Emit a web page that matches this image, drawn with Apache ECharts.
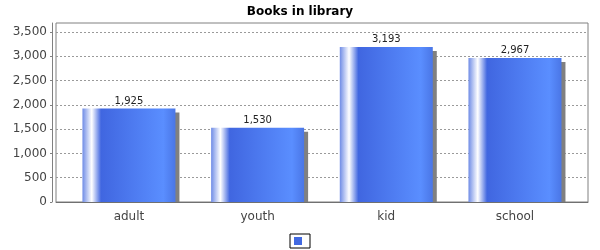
<!DOCTYPE html>
<html>
<head>
<meta charset="utf-8">
<script src="https://cdn.jsdelivr.net/npm/echarts@6/dist/echarts.min.js"></script>
<style>html,body{margin:0;padding:0;background:#fff}#c{width:600px;height:250px}</style>
</head>
<body>
<div id="c"></div>
<script>
const titleText = 'Books in library';
const categories = ['adult', 'youth', 'kid', 'school'];
const values = [1925, 1530, 3193, 2967];
const yTicks = [0, 500, 1000, 1500, 2000, 2500, 3000, 3500];
const yMax = 3685;

const font = 'DejaVu Sans';
const barGradient = {
  type: 'linear', x: 0, y: 0, x2: 1, y2: 0,
  colorStops: [
    { offset: 0, color: '#6f8ce6' },
    { offset: 0.10, color: '#ffffff' },
    { offset: 0.20, color: '#4066e0' },
    { offset: 0.87, color: '#5a8eff' },
    { offset: 1, color: '#4a76e6' }
  ]
};

const chart = echarts.init(document.getElementById('c'), null, { renderer: 'canvas' });
chart.setOption({
  animation: false,
  backgroundColor: '#ffffff',
  title: {
    text: titleText, left: 'center', top: 1,
    textStyle: { fontFamily: font, fontSize: 12, fontWeight: 'bold', color: '#000' }
  },
  legend: {
    bottom: 2, left: 290,
    data: [{ name: 'Books', itemStyle: { color: '#4169e1' } }],
    icon: 'rect', itemWidth: 8, itemHeight: 8,
    padding: [3, 3, 3, 4],
    borderColor: '#000', borderWidth: 1,
    formatter: function () { return ''; },
    textStyle: { fontSize: 8, lineHeight: 8 }
  },
  grid: [
    { left: 64.6, right: 20.7, top: 23, bottom: 48 },
    { left: 56, right: 12, top: 23, bottom: 48, show: true, borderColor: '#808080', borderWidth: 1, backgroundColor: 'transparent' }
  ],
  xAxis: [
    {
      type: 'category', gridIndex: 0, data: categories,
      axisLine: { show: false }, axisTick: { show: false },
      axisLabel: { margin: 9, fontFamily: font, fontSize: 12, color: '#444' }
    },
    {
      type: 'category', gridIndex: 1, data: categories,
      offset: 4,
      axisLine: { show: true, lineStyle: { color: '#808080' } },
      axisTick: { show: false }, axisLabel: { show: false }
    }
  ],
  yAxis: [
    {
      type: 'value', gridIndex: 0, min: 0, max: yMax, interval: 500,
      show: false
    },
    {
      type: 'value', gridIndex: 1, min: 0, max: yMax, interval: 500,
      offset: 4,
      axisLine: { show: true, lineStyle: { color: '#808080' } },
      axisTick: { show: true, length: 2, lineStyle: { color: '#808080' }, customValues: yTicks },
      axisLabel: {
        margin: 5, fontFamily: font, fontSize: 12, color: '#444',
        customValues: yTicks,
        formatter: function (v) { return v.toLocaleString('en-US'); }
      },
      splitLine: { show: true, lineStyle: { color: '#9a9a9a', type: [2, 2], width: 1 } }
    }
  ],
  series: [{
    name: 'Books', type: 'bar', xAxisIndex: 0, yAxisIndex: 0,
    data: values, barWidth: 93,
    itemStyle: {
      color: barGradient,
      shadowColor: '#808080', shadowOffsetX: 4, shadowOffsetY: 4, shadowBlur: 0
    },
    label: {
      show: true, position: 'top', distance: 2,
      fontFamily: font, fontSize: 10, color: '#222',
      formatter: function (p) { return p.value.toLocaleString('en-US'); }
    }
  }],
  graphic: [
    { type: 'rect', z: 100, shape: { x: 56.5, y: 202, width: 531, height: 4 }, style: { fill: '#ffffff' } },
    { type: 'line', z: 101, shape: { x1: 56, y1: 202.5, x2: 588, y2: 202.5 }, style: { stroke: '#707070', lineWidth: 1 } }
  ]
});
</script>
</body>
</html>
